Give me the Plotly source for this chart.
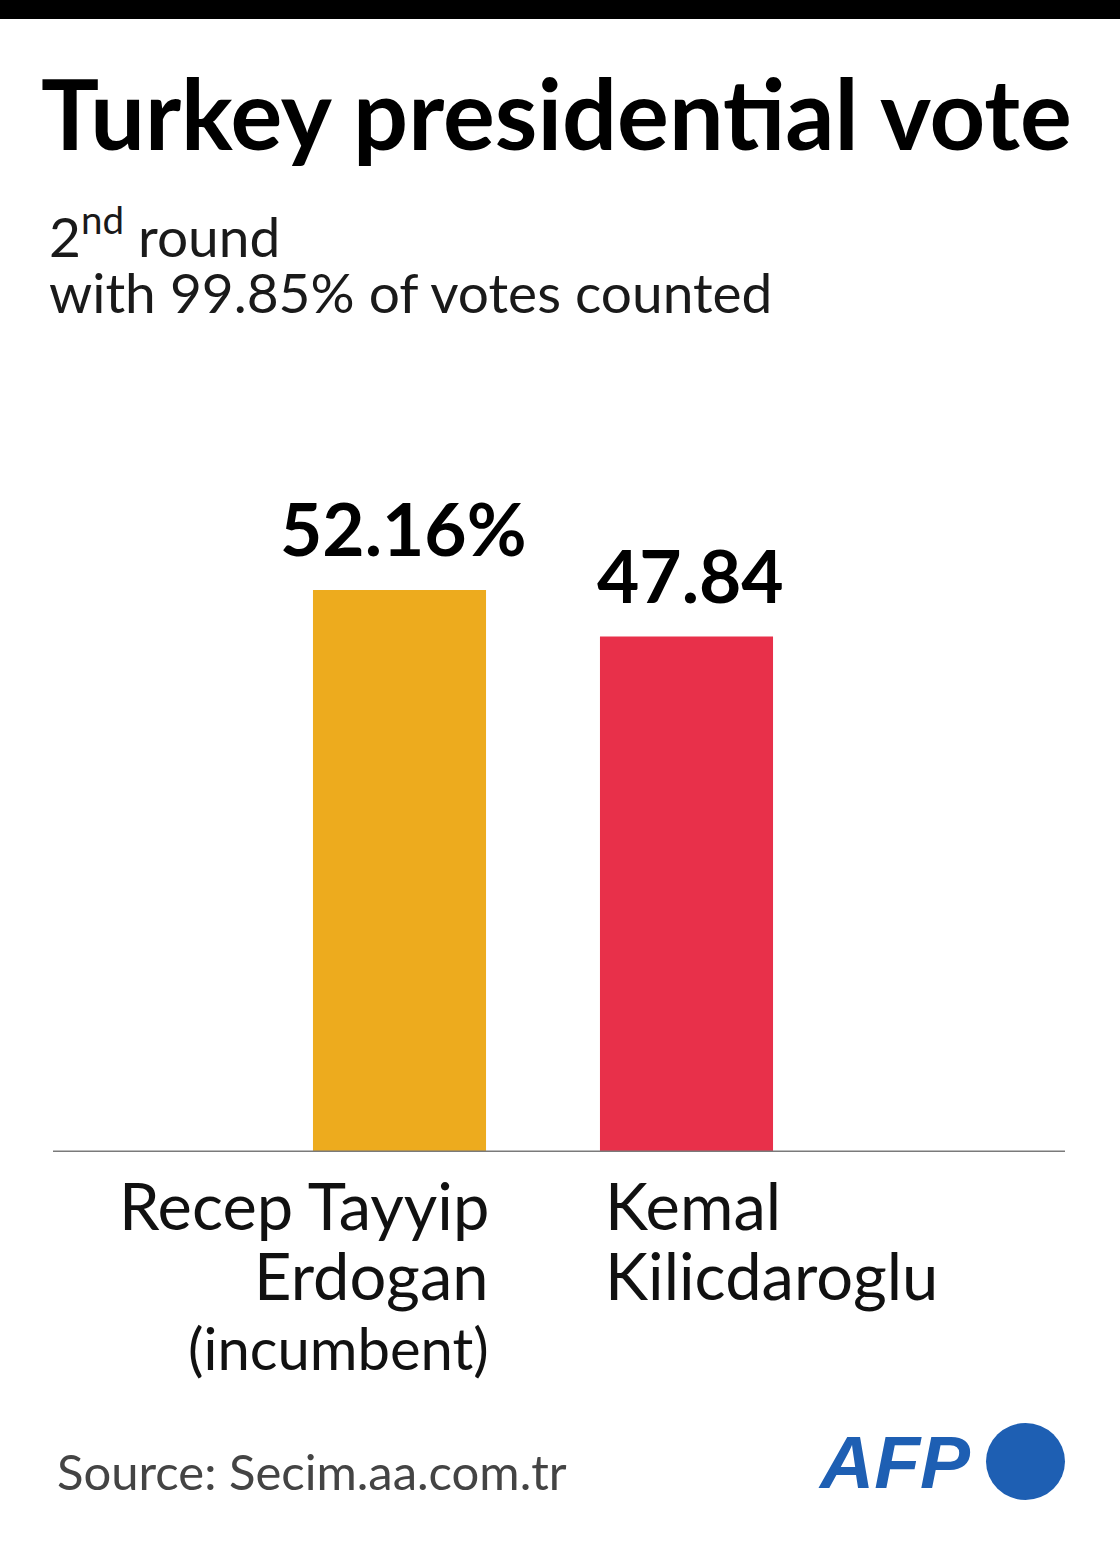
import plotly.graph_objects as go

# ---- data ----
candidates = ["Recep Tayyip Erdogan", "Kemal Kilicdaroglu"]
shares = [52.16, 47.84]
value_labels = ["52.16%", "47.84"]
bar_colors = ["#EDAB1E", "#E8304A"]
label_lines_left = ["Recep Tayyip", "Erdogan", "(incumbent)"]
label_lines_right = ["Kemal", "Kilicdaroglu"]
title_text = "Turkey presidential vote"
subtitle_lines = ["2<sup>nd</sup> round", "with 99.85% of votes counted"]
source_text = "Source: Secim.aa.com.tr"

W, H = 1120, 1542
def py(px):
    return 1 - px / H
def pxx(px):
    return px / W

FONT = "Lato"

fig = go.Figure()
fig.add_trace(go.Bar(
    x=[0, 1], y=shares, width=0.603,
    marker=dict(color=bar_colors, line=dict(width=0)),
    hoverinfo="skip", showlegend=False,
))

# axis geometry: baseline at px 1152, 10.775 px per percentage point
base_px = 1152
top_px = 400
ppu = 10.775
ymax = (base_px - top_px) / ppu
unit_x = 287.0
c0 = 399.5
xl = (53 - c0) / unit_x
xr = (1065 - c0) / unit_x

fig.update_layout(
    width=W, height=H,
    margin=dict(l=0, r=0, t=0, b=0),
    paper_bgcolor="white", plot_bgcolor="white",
    xaxis=dict(domain=[pxx(53), pxx(1065)], range=[xl, xr], visible=False, fixedrange=True),
    yaxis=dict(domain=[py(base_px), py(top_px)], range=[0, ymax], visible=False, fixedrange=True),
    showlegend=False,
    font=dict(family=FONT, color="#111111"),
)

shapes = []
# top black bar
shapes.append(dict(type="rect", xref="paper", yref="paper", x0=0, x1=1, y0=py(19), y1=1,
                   fillcolor="#000000", line=dict(width=0), layer="above"))
# baseline
shapes.append(dict(type="line", xref="paper", yref="y", x0=pxx(53), x1=pxx(1065), y0=0, y1=0,
                   line=dict(color="#7a7a7a", width=3), layer="above"))
# AFP circle
shapes.append(dict(type="circle", xref="paper", yref="paper",
                   x0=pxx(986), x1=pxx(1065), y0=py(1500), y1=py(1423),
                   fillcolor="#1E5FB3", line=dict(width=0)))
fig.update_layout(shapes=shapes)

ann = []
def text_at(txt, x_px, base, size, anchor="left", color="#111111", weight="normal", style="normal", family=FONT):
    ann.append(dict(text=txt, xref="paper", yref="paper", x=pxx(x_px), y=py(base - 0.36 * size),
                    xanchor=anchor, yanchor="middle", showarrow=False,
                    font=dict(family=family, size=size, color=color, weight=weight, style=style)))

text_at(title_text, 39, 147, 97, weight="bold", color="#000000")
text_at(subtitle_lines[0], 47, 252, 55, color="#1a1a1a")
text_at(subtitle_lines[1], 47, 312, 55, color="#1a1a1a")

# value labels above bars (data coords)
for i, (v, lab) in enumerate(zip(shares, value_labels)):
    ann.append(dict(text=lab, xref="x", yref="y", x=i, y=v, xanchor="center", yanchor="bottom",
                    yshift=16, xshift=4, showarrow=False,
                    font=dict(family=FONT, size=73, color="#000000", weight="bold")))

# category labels
for k, line in enumerate(label_lines_left):
    size = 58 if k == 2 else 65
    text_at(line, 491, 1228 + 70 * k, size, anchor="right", color="#111111")
for k, line in enumerate(label_lines_right):
    text_at(line, 603, 1228 + 70 * k, 65, anchor="left", color="#111111")

text_at(source_text, 55, 1489, 49, color="#444444")
text_at("AFP", 816, 1489, 75, color="#1E5FB3", weight="bold", style="italic", family="Liberation Sans")

fig.update_layout(annotations=ann)
fig.write_html("out.html", post_script="document.body.style.margin='0';",
               config={"displayModeBar": False})
